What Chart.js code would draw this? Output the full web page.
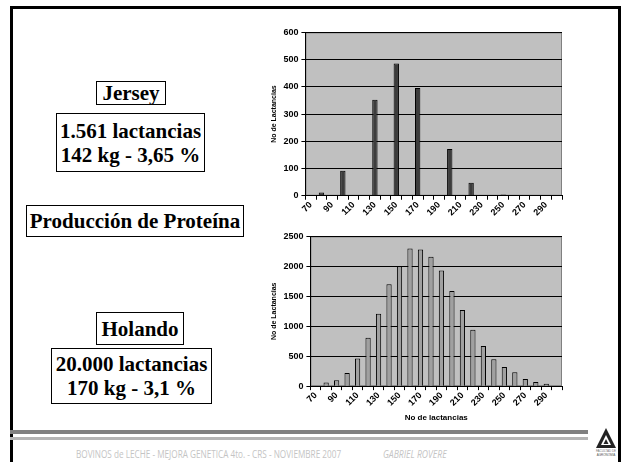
<!DOCTYPE html>
<html>
<head>
<meta charset="utf-8">
<script src="https://cdn.jsdelivr.net/npm/chart.js@4.4.0/dist/chart.umd.min.js"></script>
<style>
  body { margin: 0; background: #fff; }
  #slide { position: relative; width: 628px; height: 462px; overflow: hidden; background: #fff; }
  #frame { position: absolute; left: 10px; top: 6px; width: 605px; height: 480px; border: 3px solid #000; }
  .box { position: absolute; border: 1px solid #000; display: flex; flex-direction: column;
         align-items: center; justify-content: center; font-family: "Liberation Serif", serif;
         font-weight: bold; font-size: 21px; line-height: 24px; color: #000; }
  .chart { position: absolute; }
  #bar1 { position: absolute; left: 10px; top: 430px; width: 578px; height: 4px; background: #808080; }
  #bar2 { position: absolute; left: 10px; top: 437px; width: 578px; height: 3px; background: #b4b4b4; }
  .foot { position: absolute; top: 447px; font-family: "Open Sans", sans-serif; font-size: 10.5px;
          color: #c4c4c4; white-space: nowrap; transform-origin: left top; }
  #logo { position: absolute; left: 594px; top: 427px; }
</style>
</head>
<body>
<div id="slide">
  <div id="frame"></div>

  <div class="box" style="left:96px;top:81px;width:68px;height:22px;">Jersey</div>
  <div class="box" style="left:56px;top:113px;width:147px;height:57px;"><div>1.561 lactancias</div><div>142 kg - 3,65 %</div></div>
  <div class="box" style="left:26px;top:205px;width:216px;height:30px;">Producción de Proteína</div>
  <div class="box" style="left:96px;top:312px;width:86px;height:31px;">Holando</div>
  <div class="box" style="left:51px;top:348px;width:159px;height:54px;"><div>20.000 lactancias</div><div>170 kg - 3,1 %</div></div>

  <div class="chart" style="left:266px;top:24px;"><canvas id="chart-jersey" width="304" height="200"></canvas></div>
  <div class="chart" style="left:266px;top:228px;"><canvas id="chart-holando" width="304" height="197"></canvas></div>

  <div id="bar1"></div>
  <div id="bar2"></div>
  <div class="foot" style="left:76px;transform:scaleX(0.78);">BOVINOS de LECHE - MEJORA GENETICA 4to. - CRS - NOVIEMBRE 2007</div>
  <div class="foot" style="left:383px;font-style:italic;transform:scaleX(0.82);">GABRIEL ROVERE</div>
  <svg id="logo" width="24" height="32" viewBox="0 0 24 32">
    <polygon points="12,1 22,21 2,21" fill="#222"/>
    <polygon points="12,8 17,18 7,18" fill="#fff"/>
    <polygon points="12,12 14.5,17 9.5,17" fill="#222"/>
    <text x="12" y="25" font-size="3" text-anchor="middle" fill="#777" font-family="Liberation Sans">FACULTAD DE</text>
    <text x="12" y="29" font-size="3" text-anchor="middle" fill="#555" font-family="Liberation Sans">AGRONOMIA</text>
  </svg>
</div>

<script>
// categories: kg of protein per lactation (class marks)
var categories = ['70', '80', '90', '100', '110', '120', '130', '140', '150', '160', '170', '180',
                  '190', '200', '210', '220', '230', '240', '250', '260', '270', '280', '290', '300'];

// number of lactations per class
var jerseyValues = [0, 12, 0, 92, 0, 0, 353, 0, 486, 0, 396, 0,
                    0, 172, 0, 48, 0, 0, 5, 0, 3, 0, 0, 0];
var holandoValues = [0, 60, 100, 220, 460, 810, 1210, 1700, 2000, 2300, 2280, 2160,
                     1930, 1590, 1270, 940, 670, 450, 320, 230, 120, 70, 40, 0];

var jerseyTicks = [0, 100, 200, 300, 400, 500, 600];
var holandoTicks = [0, 500, 1000, 1500, 2000, 2500];

var plotBack = {
    id: 'plotBack',
    beforeDraw: function(chart) {
        var a = chart.chartArea, ctx = chart.ctx;
        ctx.save();
        ctx.fillStyle = '#c0c0c0';
        ctx.fillRect(a.left, a.top, a.right - a.left, a.bottom - a.top);
        ctx.strokeStyle = '#808080';
        ctx.lineWidth = 1;
        ctx.strokeRect(a.left + 0.5, a.top + 0.5, a.right - a.left - 1, a.bottom - a.top - 1);
        ctx.restore();
    }
};

var tickFont = { family: 'Liberation Sans', size: 9, weight: 'bold' };

function makeChart(id, values, ticks, fill, xTitle, padding) {
    var ctx = document.getElementById(id).getContext('2d');
    return new Chart(ctx, {
        type: 'bar',
        data: {
            labels: categories,
            datasets: [{
                data: values,
                backgroundColor: fill,
                borderColor: '#000',
                borderWidth: 1,
                barPercentage: 0.5,
                categoryPercentage: 1
            }]
        },
        options: {
            responsive: false,
            animation: false,
            layout: { padding: padding },
            plugins: { legend: { display: false }, tooltip: { enabled: false } },
            scales: {
                x: {
                    grid: { offset: true, drawOnChartArea: false, tickLength: 4, color: '#000' },
                    border: { color: '#000', width: 1 },
                    ticks: {
                        autoSkip: false, maxRotation: 45, minRotation: 45, padding: 0,
                        color: '#000', font: tickFont,
                        callback: function(v, i) { return i % 2 === 0 ? categories[i] : ''; }
                    },
                    title: { display: !!xTitle, text: xTitle, color: '#000',
                             font: { family: 'Liberation Sans', size: 8, weight: 'bold' },
                             padding: { top: 5, bottom: 0 } }
                },
                y: {
                    min: ticks[0], max: ticks[ticks.length - 1],
                    afterBuildTicks: function(axis) {
                        axis.ticks = ticks.map(function(t) { return { value: t }; });
                    },
                    grid: { color: '#000', tickLength: 4, lineWidth: 1 },
                    border: { color: '#000', width: 1 },
                    ticks: { color: '#000', font: tickFont, padding: 3,
                             callback: function(v) { return String(v); } },
                    title: { display: true, text: 'No de Lactancias', color: '#000',
                             font: { family: 'Liberation Sans', size: 7, weight: 'bold' }, padding: 2 }
                }
            }
        },
        plugins: [plotBack]
    });
}

makeChart('chart-jersey', jerseyValues, jerseyTicks, '#3c3c3c', '', { left: 2, right: 8, top: 3, bottom: 6 });
makeChart('chart-holando', holandoValues, holandoTicks, '#a0a0a0', 'No de lactancias', { left: 2, right: 8, top: 4, bottom: 2 });
</script>
</body>
</html>
